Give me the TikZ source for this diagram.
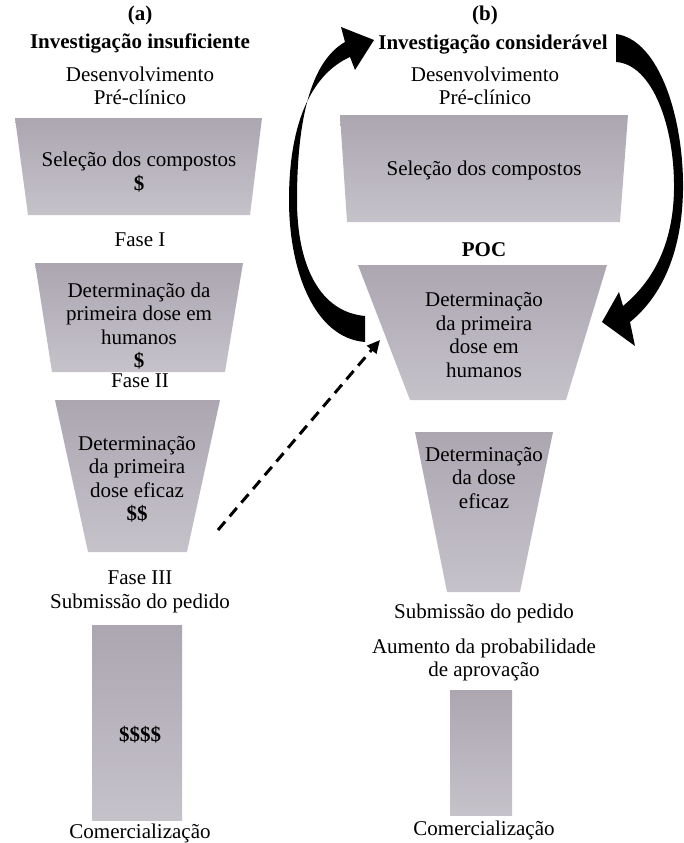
\documentclass[tikz,border=0pt]{standalone}
\usepackage{fontspec}
\setmainfont{Liberation Serif}
\usetikzlibrary{arrows.meta}
\definecolor{trtop}{RGB}{171,166,176}
\definecolor{trbot}{RGB}{198,194,202}
\tikzset{
  funnel/.style={top color=trtop, bottom color=trbot, draw=none},
  lbl/.style={font=\fontsize{21}{23.5}\selectfont, align=center, inner sep=0pt},
  blbl/.style={font=\fontsize{21}{23.5}\selectfont\bfseries, align=center, inner sep=0pt},
  swoosh/.style={fill=black, draw=none},
  dasharrow/.style={line width=3pt, dash pattern=on 11pt off 7pt, -{Triangle[length=13pt,width=12pt]}}
}
\begin{document}
\begin{tikzpicture}[x=1pt,y=-1pt]
\useasboundingbox (0,0) rectangle (683,843);
% ---------- left column (a)
\node[blbl] (ta) at (140,15) {(a)};
\node[blbl] (tia) at (140,43) {Investigação insuficiente};
\node[lbl] (dpa) at (140,86) {Desenvolvimento\\Pré-clínico};
\path[funnel] (15,118) -- (262,118) -- (250,215) -- (28,215) -- cycle;
\node[lbl] (sa) at (139,172) {Seleção dos compostos\\\textbf{\$}};
\node[lbl] (f1) at (140,240) {Fase I};
\path[funnel] (35,263) -- (243,263) -- (225,372) -- (52,372) -- cycle;
\node[lbl] (d1a) at (139,326) {Determinação da\\primeira dose em\\humanos\\\textbf{\$}};
\node[lbl] (f2) at (140,381) {Fase II};
\path[funnel] (55,400) -- (220,400) -- (187,552) -- (88,552) -- cycle;
\node[lbl] (d2a) at (137,479) {Determinação\\da primeira\\dose eficaz\\\textbf{\$\$}};
\node[lbl] (f3) at (140,592) {Fase III\\Submissão do pedido};
\path[funnel] (92,625) rectangle (182,820);
\node[lbl] (ma) at (140,735) {\textbf{\$\$\$\$}};
\node[lbl] (ca) at (140,833) {Comercialização};
% ---------- right column (b)
\node[blbl] (tb) at (485,15) {(b)};
\node[blbl] (tib) at (493,45) {Investigação considerável};
\node[lbl] (dpb) at (485,86) {Desenvolvimento\\Pré-clínico};
\path[funnel] (340,115) -- (628,115) -- (620,222) -- (347,222) -- cycle;
\node[lbl] (sb) at (484,170) {Seleção dos compostos};
\node[blbl] (poc) at (484,250) {POC};
\path[funnel] (358,265) -- (607,265) -- (566,400) -- (410,400) -- cycle;
\node[lbl] (d1b) at (484,335) {Determinação\\da primeira\\dose em\\humanos};
\path[funnel] (415,432) -- (553,432) -- (520,592) -- (447,592) -- cycle;
\node[lbl] (d2b) at (484,478) {Determinação\\da dose\\eficaz};
\node[lbl] (sub) at (484,613) {Submissão do pedido};
\node[lbl] (aum) at (484,660) {Aumento da probabilidade\\de aprovação};
\path[funnel] (450,690) rectangle (512,815);
\node[lbl] (cb) at (484,830) {Comercialização};
% ---------- swooshes
\fill[swoosh] (365,342) .. controls (315,338) and (289,272) .. (289,200)
  .. controls (289,122) and (312,74) .. (350,57) -- (355,70) -- (374,40) -- (341,27) -- (345,42)
  .. controls (310,62) and (297,122) .. (297,200)
  .. controls (297,266) and (320,312) .. (365,316) -- cycle;
\fill[swoosh] (616,34) .. controls (660,40) and (684,120) .. (683,190)
  .. controls (682,252) and (662,296) .. (630,322) -- (635,346) -- (602,322) -- (619,292) -- (623,306)
  .. controls (652,282) and (673,246) .. (674,190)
  .. controls (675,126) and (652,64) .. (616,62) -- cycle;
% ---------- dashed arrow
\coordinate (da) at (218,530);
\coordinate (db) at (380,340);
\draw[dasharrow] (da) -- (db);
\end{tikzpicture}
\end{document}
